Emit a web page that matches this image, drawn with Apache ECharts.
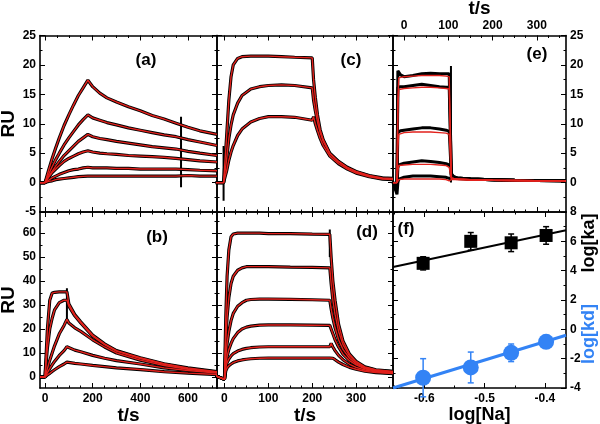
<!DOCTYPE html>
<html><head><meta charset="utf-8">
<script src="https://cdn.jsdelivr.net/npm/echarts@6/dist/echarts.min.js"></script>
<style>html,body{margin:0;padding:0;background:#fff}#c{width:600px;height:424px}</style>
</head><body><div id="c"></div>
<script>
// ---------- Panel (a) ----------
const tA = [-20, 0, 15, 30, 45, 60, 80, 100, 120, 140, 160, 180, 200, 230, 260, 300, 350, 400, 450, 500, 550, 600, 650, 722];
const a1 = [0, 0, 2.1, 4.1, 5.9, 7.6, 9.7, 11.5, 13.2, 14.8, 16.1, 17.4, 16.3, 15.2, 14.4, 13.7, 12.9, 12.2, 11.4, 10.8, 10.1, 9.4, 8.8, 8.2];
const a2 = [0, 0, 1.4, 2.7, 3.9, 5.0, 6.4, 7.6, 8.7, 9.8, 10.7, 11.5, 11.0, 10.6, 10.2, 9.8, 9.3, 8.9, 8.5, 8.1, 7.8, 7.3, 6.9, 6.3];
const a3 = [0, 0, 1.0, 1.9, 2.8, 3.6, 4.6, 5.4, 6.2, 7.0, 7.6, 8.2, 7.8, 7.5, 7.3, 7.0, 6.7, 6.4, 6.1, 5.9, 5.7, 5.3, 5.0, 4.6];
const a4 = [0, 0, 0.9, 1.7, 2.3, 2.9, 3.6, 4.1, 4.5, 4.9, 5.2, 5.4, 5.2, 5.0, 4.9, 4.8, 4.6, 4.5, 4.4, 4.3, 4.1, 3.9, 3.7, 3.5];
const a5 = [0, 0, 0.4, 0.8, 1.1, 1.4, 1.7, 2.0, 2.2, 2.3, 2.5, 2.6, 2.5, 2.5, 2.5, 2.4, 2.4, 2.3, 2.3, 2.3, 2.3, 2.2, 2.1, 2.0];
const a6 = [0, 0, 0.2, 0.3, 0.5, 0.6, 0.7, 0.8, 0.9, 1.0, 1.05, 1.1, 1.1, 1.1, 1.1, 1.1, 1.1, 1.1, 1.1, 1.1, 1.1, 1.2, 1.1, 1.1];
const spikeAT = [571, 571];
const spikeAY = [11.2, -0.8];

// ---------- Panel (b) ----------
const tB = [-21, 0, 10, 20, 30, 40, 60, 80, 92, 100, 125, 150, 200, 250, 300, 400, 500, 600, 722];
const b1 = [0, 0, 20, 32, 35, 35.3, 35.5, 35.5, 35.5, 30.5, 26, 23, 17.5, 13.8, 11, 8.0, 5.5, 3.8, 2.2];
const b2 = [0, 0, 12, 20, 24.5, 28, 31, 32, 32, 29.5, 25.5, 22.5, 17, 13.5, 10.8, 7.7, 5.3, 3.5, 2.0];
const b3 = [0, 0, 3.5, 7, 10, 13, 18, 21.5, 24, 22.5, 20.5, 19, 15.5, 12.5, 10, 7, 4.8, 3.2, 1.8];
const b4 = [0, 0, 1.8, 3.5, 5.0, 6.5, 9, 11, 12.6, 12, 11.2, 10.5, 9, 7.8, 6.8, 5.4, 3.8, 2.7, 1.6];
const b5 = [0, 0, 0.8, 1.5, 2.3, 3, 4.3, 5.4, 6.2, 6, 5.7, 5.4, 4.8, 4.3, 3.8, 3.1, 2.2, 1.6, 1.0];
const spikeBT = [92, 92];
const spikeBY = [37, 24];

// ---------- Panel (c) ----------
const tC = [-20, -2, 0, 5, 10, 15, 20, 30, 40, 60, 80, 100, 130, 160, 200, 203, 207, 212, 218, 225, 240, 260, 280, 300, 330, 360, 384];
const c1 = [0, 0, 0, 8, 14, 18, 20, 21.1, 21.4, 21.5, 21.5, 21.5, 21.4, 21.3, 21.2, 17.5, 14.5, 11.5, 9.0, 7.3, 5.0, 3.6, 2.6, 1.9, 1.2, 0.8, 0.7];
const c2 = [0, 0, 0, 4, 7.5, 9.8, 11.5, 13.5, 14.8, 15.9, 16.3, 16.5, 16.6, 16.5, 16.1, 14.0, 12.2, 10.3, 8.5, 7.0, 4.9, 3.5, 2.5, 1.8, 1.1, 0.7, 0.6];
const c3 = [0, 0, 0, 2, 3.8, 5.2, 6.3, 8.0, 9.1, 10.3, 10.9, 11.2, 11.2, 11.1, 10.6, 11.2, 10.0, 8.8, 7.5, 6.3, 4.5, 3.2, 2.3, 1.6, 1.0, 0.6, 0.5];
const spikeCT = [-2, -2];
const spikeCY = [6.2, -3.1];

// ---------- Panel (d) ----------
const tD = [-20, 0, 3, 6, 10, 15, 20, 30, 40, 50, 60, 80, 100, 150, 200, 240, 243, 247, 252, 260, 270, 285, 300, 320, 345, 384];
const d1 = [0.5, -1, 25, 42, 53, 58.5, 59.6, 60, 60, 60, 60, 60, 59.8, 59.8, 59.6, 59.5, 50, 40, 32, 22, 15, 9.5, 6.5, 4.2, 3.0, 2.3];
const d2 = [0.5, -1, 15, 25, 33, 39, 42, 44.5, 45.5, 46, 46, 46, 46, 45.8, 45.7, 45.5, 39, 32, 26, 19, 13.5, 8.8, 6.0, 4.0, 2.8, 2.2];
const d3 = [0.5, -1, 8, 14, 19, 23.5, 26.5, 29.5, 31, 32, 32.3, 32.5, 32.5, 32.4, 32.2, 32, 28.5, 24.5, 20.5, 15.5, 11.5, 7.8, 5.5, 3.7, 2.6, 2.0];
const d4 = [0.5, -1, 5, 8.5, 11.5, 14, 16, 18.5, 20, 20.8, 21.2, 21.6, 21.7, 21.7, 21.6, 21.5, 20, 18, 15.5, 12.5, 9.5, 6.8, 5.0, 3.4, 2.4, 1.8];
const d5 = [0.5, -1, 4, 6, 7.5, 8.8, 9.7, 10.8, 11.5, 11.9, 12.2, 12.5, 12.6, 12.6, 12.6, 12.6, 14, 12.5, 11, 9, 7.2, 5.3, 4.0, 2.9, 2.1, 1.6];
const d6 = [0.5, -1, 2.5, 3.8, 4.7, 5.4, 6.0, 6.7, 7.1, 7.4, 7.6, 7.8, 7.9, 7.9, 7.9, 7.9, 8.5, 7.8, 7.2, 6.2, 5.2, 4.0, 3.2, 2.4, 1.8, 1.4];
const spikeDT = [240, 240];
const spikeDY = [61.5, 50];

// ---------- Panel (e) ----------
const tE = [-25, -16, -14, -12, -8, 0, 20, 40, 60, 80, 95, 102, 105, 107, 112, 120, 150, 200, 250, 300, 366];
const e1fit = [0, 0, 14, 17.8, 18.0, 18.0, 18.1, 18.2, 18.2, 18.2, 18.1, 18.0, 17.8, 0.8, 0.7, 0.6, 0.5, 0.4, 0.35, 0.3, 0.3];
const e2fit = [0, 0, 13, 15.8, 16.0, 16.0, 16.1, 16.2, 16.2, 16.1, 16.0, 15.9, 15.7, 0.8, 0.7, 0.6, 0.5, 0.4, 0.35, 0.3, 0.3];
const e3fit = [0, 0, 6, 8.2, 8.5, 8.5, 8.6, 8.6, 8.6, 8.5, 8.4, 8.2, 7.9, 0.7, 0.6, 0.6, 0.5, 0.4, 0.35, 0.3, 0.3];
const e4fit = [0, 0, 2, 2.9, 3.0, 3.0, 3.1, 3.1, 3.1, 3.0, 2.9, 2.6, 2.3, 0.6, 0.6, 0.5, 0.5, 0.4, 0.35, 0.3, 0.3];
const e5fit = [0, 0, 0.3, 0.5, 0.5, 0.6, 0.6, 0.6, 0.6, 0.6, 0.5, 0.3, 0.1, 0.5, 0.5, 0.5, 0.4, 0.4, 0.35, 0.3, 0.3];
const e1dat = [0, -0.5, 19, 18.8, 18.3, 18.0, 18.2, 18.5, 18.6, 18.5, 18.5, 18.5, 18.6, 1.5, 1.0, 0.8, 0.6, 0.5, 0.4, 0.35, 0.3];
const e2dat = [0, -0.5, 16.2, 16.3, 16.3, 16.3, 16.5, 16.7, 16.5, 16.3, 16.2, 16.2, 16.1, 1.3, 1.0, 0.8, 0.6, 0.5, 0.4, 0.35, 0.3];
const e3dat = [0, -0.5, 8.5, 8.7, 8.8, 8.9, 9.1, 9.3, 9.3, 9.1, 8.9, 8.7, 8.4, 1.2, 0.9, 0.8, 0.6, 0.5, 0.4, 0.35, 0.3];
const e4dat = [0, -1, 2.5, 3.0, 3.2, 3.3, 3.5, 3.7, 3.6, 3.4, 3.2, 3.0, 2.6, 1.0, 0.9, 0.7, 0.6, 0.5, 0.4, 0.35, 0.3];
const e5dat = [0, -2, 0, 0.6, 0.8, 0.9, 1.1, 1.1, 1.1, 1.0, 0.9, 0.7, 0.4, 0.8, 0.8, 0.7, 0.6, 0.5, 0.4, 0.35, 0.3];
const spikeET = [106, 106];
const spikeEY = [19.8, 0];

// ---------- Panel (f) ----------
const logNa = [-0.602, -0.523, -0.456, -0.398];
const logKa = [4.5, 6.0, 5.9, 6.4];
const kaErr = [0.45, 0.6, 0.6, 0.6];
const logKd = [-3.3, -2.6, -1.6, -0.85];
const kdErr = [1.3, 1.05, 0.6, 0.2];
const fitNa = [-0.652, -0.365];
const kaFit = [4.25, 6.75];
const kdFit = [-4.0, -0.4];

// ---------- Tick labels ----------
const xTicksAB = [0, 200, 400, 600];
const xMinorAB = [50, 100, 150, 250, 300, 350, 450, 500, 550, 650, 700];
const xTicksCD = [0, 100, 200, 300];
const xMinorCD = [25, 50, 75, 125, 150, 175, 225, 250, 275, 325, 350, 375];
const xTicksE = [0, 100, 200, 300];
const xMinorE = [25, 50, 75, 125, 150, 175, 225, 250, 275, 325, 350];
const xTicksF = [-0.6, -0.5, -0.4];
const xMinorF = [-0.65, -0.55, -0.45];
const yTicksRU1 = [-5, 0, 5, 10, 15, 20, 25];
const yLabelsE = [0, 5, 10, 15, 20, 25];
const yMinorRU1 = [-2.5, 2.5, 7.5, 12.5, 17.5, 22.5];
const yTicksRU2 = [0, 10, 20, 30, 40, 50, 60];
const yMinorRU2 = [5, 15, 25, 35, 45, 55, 65];
const yTicksF = [-4, -2, 0, 2, 4, 6, 8];
const yMinorF = [-3, -1, 1, 3, 5, 7];

const FONT = '"Liberation Sans", Arial, Helvetica, sans-serif';
const RED = '#e2211c', BLACK = '#000000', BLUE = '#3383f5';

const panels = [
  {grid:{left:40, top:35.5, width:177, height:176.5}, x:[-21,722], y:[-5,25], xT:xTicksAB, xM:xMinorAB, yT:yTicksRU1, yM:yMinorRU1,
   lab:{left:yTicksRU1}, names:{left:'RU'}},
  {grid:{left:40, top:212, width:177, height:176}, x:[-21,722], y:[-4.6,68.8], xT:xTicksAB, xM:xMinorAB, yT:yTicksRU2, yM:yMinorRU2,
   lab:{left:yTicksRU2, bottom:xTicksAB}, names:{left:'RU', bottom:'t/s'}},
  {grid:{left:217, top:35.5, width:176, height:176.5}, x:[-17,384], y:[-5,25], xT:xTicksCD, xM:xMinorCD, yT:yTicksRU1, yM:yMinorRU1,
   lab:{}, names:{}},
  {grid:{left:217, top:212, width:176, height:176}, x:[-17,384], y:[-4.6,68.8], xT:xTicksCD, xM:xMinorCD, yT:yTicksRU2, yM:yMinorRU2,
   lab:{bottom:xTicksCD}, names:{bottom:'t/s'}},
  {grid:{left:393, top:35.5, width:173, height:176.5}, x:[-25,366], y:[-5,25], xT:xTicksE, xM:xMinorE, yT:yTicksRU1, yM:yMinorRU1,
   lab:{top:xTicksE, right:yLabelsE}, names:{top:'t/s'}},
  {grid:{left:393, top:212, width:173, height:176}, x:[-0.652,-0.365], y:[-4,8], xT:xTicksF, xM:xMinorF, yT:yTicksF, yM:yMinorF,
   lab:{bottom:xTicksF, right:yTicksF}, names:{bottom:'log[Na]'}}
];

const nameStyle = {fontFamily:FONT, fontWeight:'bold', fontSize:19, color:'#000'};
function mkAxis(gi, pos, range, ticks, minors, labels, name){
  const main = {type:'value', gridIndex:gi, position:pos, min:range[0], max:range[1],
    axisLine:{show:true, onZero:false, lineStyle:{color:'#000', width:1.6}},
    axisTick:{show:true, inside:true, length:5, customValues:ticks, lineStyle:{color:'#000', width:1}},
    axisLabel:{show:!!labels, customValues:labels||ticks, color:'#000', fontFamily:FONT, fontWeight:'bold', fontSize:12, margin:(pos==='bottom'?5:4)},
    splitLine:{show:false}};
  if (name) {
    main.name = name; main.nameLocation = 'middle';
    main.nameTextStyle = Object.assign({}, nameStyle, name==='log[Na]'?{fontSize:18}:{});
    if (pos==='left') { main.nameGap = 12; main.nameRotate = 90; }
    else if (pos==='bottom') { main.nameGap = 17; }
    else if (pos==='top') { main.nameGap = 15; }
  }
  const minor = {type:'value', gridIndex:gi, position:pos, min:range[0], max:range[1],
    axisLine:{show:false, onZero:false},
    axisTick:{show:true, inside:true, length:2.5, customValues:minors, lineStyle:{color:'#000', width:1}},
    axisLabel:{show:false}, splitLine:{show:false}};
  return [main, minor];
}

const grid = [], xAxis = [], yAxis = [];
panels.forEach((p, gi) => {
  grid.push(Object.assign({containLabel:false, outerBoundsMode:'none'}, p.grid));
  xAxis.push(...mkAxis(gi, 'bottom', p.x, p.xT, p.xM, p.lab.bottom, p.names.bottom));
  xAxis.push(...mkAxis(gi, 'top', p.x, p.xT, p.xM, p.lab.top, p.names.top));
  yAxis.push(...mkAxis(gi, 'left', p.y, p.yT, p.yM, p.lab.left, p.names.left));
  yAxis.push(...mkAxis(gi, 'right', p.y, p.yT, p.yM, p.lab.right, p.names.right));
});

function pairs(t, y){ return t.map((v, i) => [v, y[i]]); }
function line(gi, t, y, color, width, z){
  return {type:'line', xAxisIndex:gi*4, yAxisIndex:gi*4, data:pairs(t, y), symbol:'none', showSymbol:false,
    lineStyle:{color:color, width:width}, z:z, silent:true, animation:false};
}
const series = [];
function dataAndFit(gi, t, curves){
  curves.forEach(c => series.push(line(gi, t, c, BLACK, 3.2, 2)));
  curves.forEach(c => series.push(line(gi, t, c, RED, 1.4, 3)));
}
dataAndFit(0, tA, [a1, a2, a3, a4, a5, a6]);
series.push(line(0, spikeAT, spikeAY, BLACK, 2, 2));
dataAndFit(1, tB, [b1, b2, b3, b4, b5]);
series.push(line(1, spikeBT, spikeBY, BLACK, 2, 2));
dataAndFit(2, tC, [c1, c2, c3]);
series.push(line(2, spikeCT, spikeCY, BLACK, 2, 2));
dataAndFit(3, tD, [d1, d2, d3, d4, d5, d6]);
series.push(line(3, spikeDT, spikeDY, BLACK, 2, 2));
[e1dat, e2dat, e3dat, e4dat, e5dat].forEach(c => series.push(line(4, tE, c, BLACK, 3, 2)));
[e1fit, e2fit, e3fit, e4fit, e5fit].forEach(c => series.push(line(4, tE, c, RED, 1.4, 3)));
series.push(line(4, spikeET, spikeEY, BLACK, 2, 2));

// panel (f)
series.push(line(5, fitNa, kaFit, BLACK, 2, 2));
series.push(line(5, fitNa, kdFit, BLUE, 3, 2));
function errBars(xs, ys, errs, color){
  return {type:'custom', xAxisIndex:20, yAxisIndex:20, z:3, silent:true, animation:false,
    data: xs.map((x, i) => [x, ys[i] - errs[i], ys[i] + errs[i]]),
    renderItem: (params, api) => {
      const lo = api.coord([api.value(0), api.value(1)]);
      const hi = api.coord([api.value(0), api.value(2)]);
      const w = 3, st = {stroke:color, lineWidth:1.5};
      return {type:'group', children:[
        {type:'line', shape:{x1:lo[0], y1:lo[1], x2:hi[0], y2:hi[1]}, style:st},
        {type:'line', shape:{x1:lo[0]-w, y1:lo[1], x2:lo[0]+w, y2:lo[1]}, style:st},
        {type:'line', shape:{x1:hi[0]-w, y1:hi[1], x2:hi[0]+w, y2:hi[1]}, style:st}
      ]};
    }};
}
series.push(errBars(logNa, logKa, kaErr, BLACK));
series.push(errBars(logNa, logKd, kdErr, BLUE));
series.push({type:'scatter', xAxisIndex:20, yAxisIndex:20, data:pairs(logNa, logKa), symbol:'rect', symbolSize:13,
  itemStyle:{color:BLACK, opacity:1}, z:4, silent:true, animation:false});
series.push({type:'scatter', xAxisIndex:20, yAxisIndex:20, data:pairs(logNa, logKd), symbol:'circle', symbolSize:16,
  itemStyle:{color:BLUE, opacity:1}, z:4, silent:true, animation:false});

function label(txt, x, y, size, color, rot){
  return {type:'text', x:x, y:y, rotation:rot||0, z:10, silent:true,
    style:{text:txt, font:'bold '+size+'px '+FONT, fill:color||'#000', textAlign:'center', textVerticalAlign:'middle'}};
}
const graphic = [
  label('(a)', 146, 60, 17), label('(b)', 157, 237, 17), label('(c)', 351, 60, 17),
  label('(d)', 367, 232, 17), label('(e)', 537, 54, 17), label('(f)', 406, 229, 17),
  label('log[ka]', 589, 243, 18, '#000', Math.PI/2),
  label('log[kd]', 589, 334, 18, BLUE, Math.PI/2)
];

const chart = echarts.init(document.getElementById('c'), null, {renderer:'canvas', width:600, height:424});
chart.setOption({animation:false, backgroundColor:'#fff', grid, xAxis, yAxis, series, graphic});
</script>
</body></html>
